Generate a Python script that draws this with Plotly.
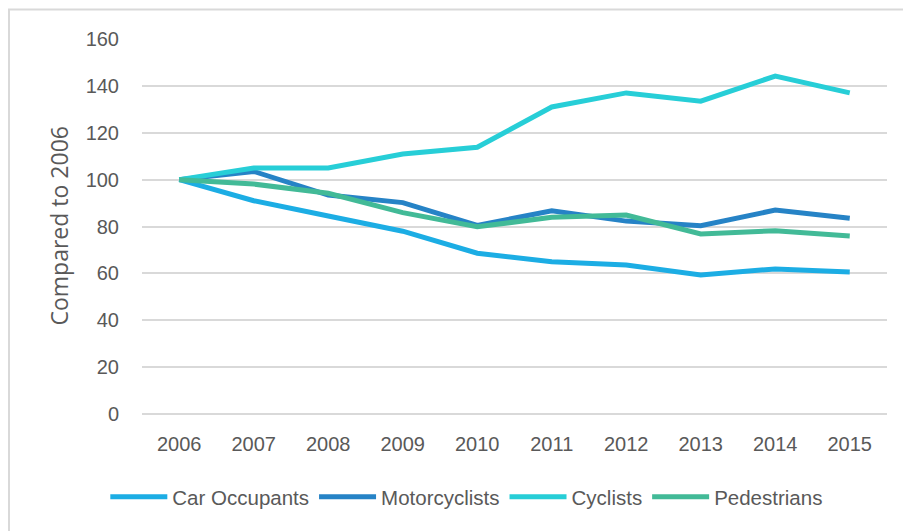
import plotly.graph_objects as go

years = ["2006", "2007", "2008", "2009", "2010", "2011", "2012", "2013", "2014", "2015"]
car_occupants = [100, 91, 84.5, 78, 68.6, 65, 63.6, 59.3, 61.9, 60.6]
motorcyclists = [100, 103.5, 93.4, 90.2, 80.5, 86.7, 82.3, 80.3, 87, 83.5]
cyclists = [100, 105, 105, 110.9, 113.8, 131, 137, 133.5, 144.2, 137]
pedestrians = [100, 98.1, 94.2, 85.9, 79.9, 83.9, 84.9, 76.8, 78.2, 75.9]
y_ticks = [0, 20, 40, 60, 80, 100, 120, 140, 160]

series = [
    ("Car Occupants", car_occupants, "#1CADE4"),
    ("Motorcyclists", motorcyclists, "#2683C6"),
    ("Cyclists", cyclists, "#27CED7"),
    ("Pedestrians", pedestrians, "#42BA97"),
]

tick_font = dict(family="Liberation Sans, Arial, sans-serif", size=20, color="#595959")

fig = go.Figure()
for name, vals, color in series:
    fig.add_trace(go.Scatter(
        x=years, y=vals, name=name, mode="lines",
        line=dict(color=color, width=5, shape="linear"),
    ))

fig.update_layout(
    width=903, height=531,
    margin=dict(l=142, r=16, t=39, b=117, autoexpand=False),
    paper_bgcolor="white", plot_bgcolor="white",
    showlegend=True,
    legend=dict(
        orientation="h", x=0.436, xanchor="center", y=-0.221, yanchor="middle",
        font=dict(family="Liberation Sans, Arial, sans-serif", size=20.5, color="#595959"),
        itemwidth=57, tracegroupgap=0, bgcolor="rgba(0,0,0,0)",
    ),
    xaxis=dict(
        type="category", range=[-0.5, 9.5], showgrid=False, zeroline=False,
        showline=False, ticks="outside", ticklen=12, tickcolor="rgba(0,0,0,0)",
        tickfont=tick_font, automargin=False,
    ),
    yaxis=dict(
        range=[0, 160], tickvals=y_ticks, showgrid=True, gridcolor="#D9D9D9",
        gridwidth=2, zeroline=True, zerolinecolor="#D9D9D9", zerolinewidth=2,
        ticks="outside", ticklen=18, tickcolor="rgba(0,0,0,0)", tickfont=tick_font,
        automargin=False,
    ),
    annotations=[dict(
        text="Compared to 2006", textangle=-90, xref="paper", yref="paper",
        x=(58 - 142) / 745, y=0.5, xanchor="center", yanchor="middle",
        showarrow=False,
        font=dict(family="Open Sans, sans-serif", size=23, color="#595959"),
    )],
    shapes=[dict(type="rect", xref="paper", yref="paper",
                 x0=-0.1785, x1=1.05, y0=-0.36, y1=1.0787,
                 line=dict(color="#D9D9D9", width=2), layer="below")],
)

fig.write_html(
    "out.html",
    config={"responsive": False, "displayModeBar": False},
    post_script=(
        "document.body.style.margin='0';"
        "document.body.style.overflow='hidden';"
        "Plotly.relayout('{plot_id}', {width: 903, height: 531});"
    ),
)
